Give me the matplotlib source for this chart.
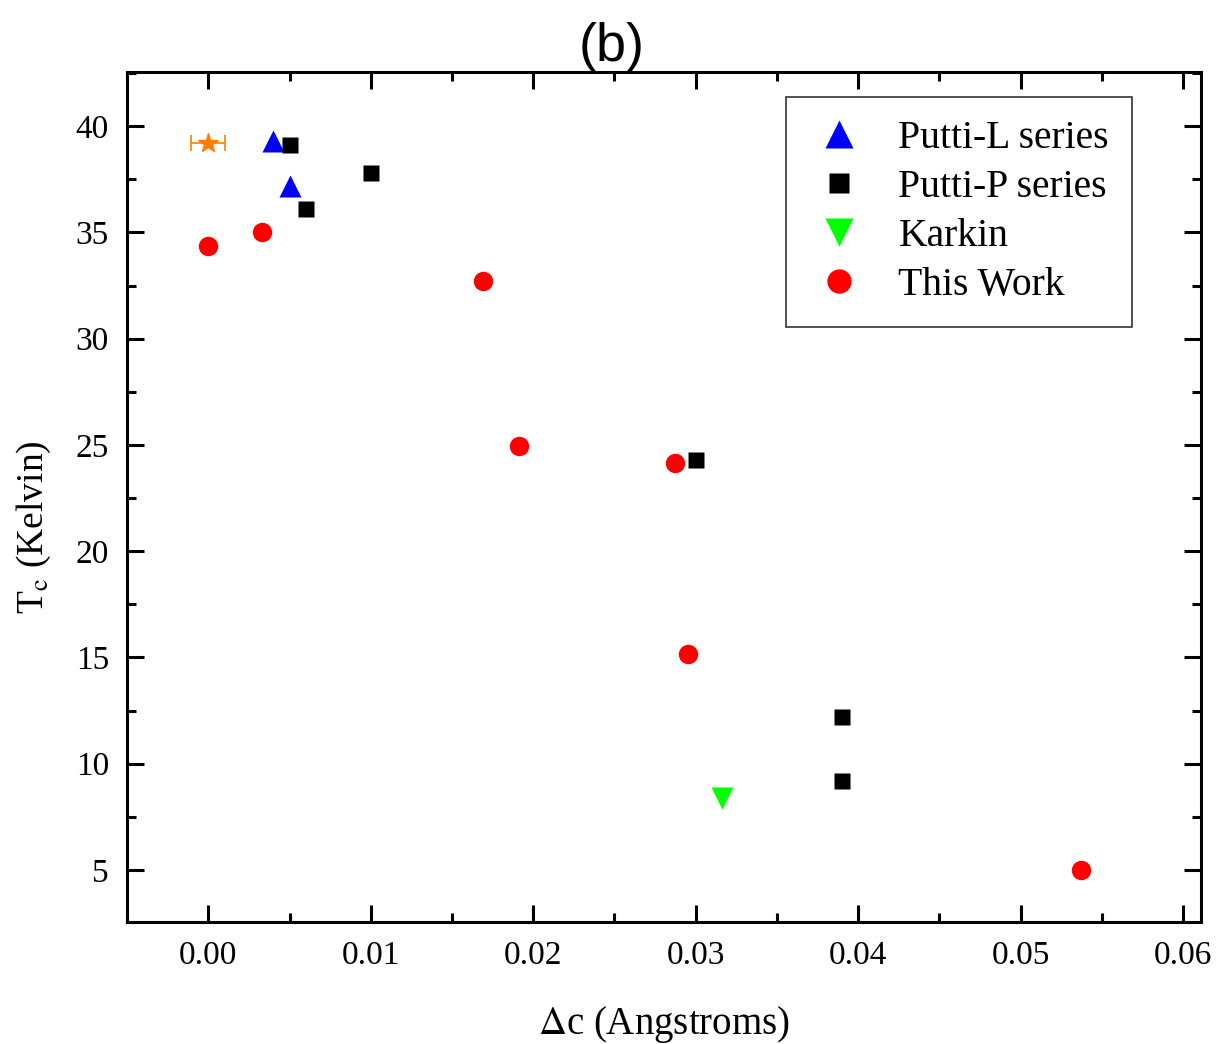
import matplotlib
matplotlib.use("Agg")
import matplotlib.pyplot as plt
from matplotlib.ticker import MultipleLocator

# data
putti_l_x = [0.004, 0.005]
putti_l_y = [39.3, 37.2]
putti_p_x = [0.005, 0.010, 0.006, 0.030, 0.039, 0.039]
putti_p_y = [39.1, 37.8, 36.1, 24.3, 12.2, 9.2]
karkin_x = [0.0316]
karkin_y = [8.4]
work_x = [0.0, 0.0033, 0.0169, 0.0191, 0.0287, 0.0295, 0.0537]
work_y = [34.35, 35.0, 32.7, 24.95, 24.15, 15.17, 5.0]
star_x = [0.0]
star_y = [39.2]
star_xerr = [0.00105]

plt.rcParams['font.family'] = ['Liberation Serif', 'DejaVu Serif']
plt.rcParams['mathtext.fontset'] = 'stix'

fig = plt.figure(figsize=(12.17, 10.44), dpi=100)
ax = fig.add_axes([0.1044, 0.1169, 0.8824, 0.8141])

ax.errorbar(star_x, star_y, xerr=star_xerr, fmt='*', color='#ff8000',
            ms=15, capsize=6, elinewidth=1.2, capthick=1.2)
ax.plot(putti_l_x, putti_l_y, '^', color='blue', ms=16, mec='none', label='Putti-L series')
ax.plot(putti_p_x, putti_p_y, 's', color='black', ms=12, mec='none', label='Putti-P series')
ax.plot(karkin_x, karkin_y, 'v', color='#00ff00', ms=16, mec='none', label='Karkin')
ax.plot(work_x, work_y, 'o', color='red', ms=14, mec='none', label='This Work')

ax.set_xlim(-0.005, 0.0611)
ax.set_ylim(2.55, 42.55)
ax.xaxis.set_major_locator(MultipleLocator(0.01))
ax.xaxis.set_minor_locator(MultipleLocator(0.005))
ax.yaxis.set_major_locator(MultipleLocator(5))
ax.yaxis.set_minor_locator(MultipleLocator(2.5))
ax.xaxis.set_major_formatter(matplotlib.ticker.FormatStrFormatter('%.2f'))

ax.tick_params(which='both', direction='in', top=True, right=True, width=2.2, labelsize=24)
ax.tick_params(which='major', length=12, pad=13)
ax.tick_params(which='minor', length=6.5)
for s in ax.spines.values():
    s.set_linewidth(2.2)

ax.set_xlabel(r'$\Delta$c (Angstroms)', fontsize=28, labelpad=24)
ax.set_ylabel(r'T$_{\rm c}$ (Kelvin)', fontsize=27)
ax.yaxis.set_label_coords(-0.069, 0.465)
ax.set_title('(b)', fontsize=39, family='Liberation Sans', x=0.4516, pad=6)

leg = ax.legend(loc='upper right', bbox_to_anchor=(0.9357, 0.9706), fontsize=28.5,
                frameon=True, fancybox=False, edgecolor='black', handletextpad=0.75,
                labelspacing=0.3, borderpad=0.58, handlelength=1.5, markerscale=1.25,
                borderaxespad=0)
leg.get_frame().set_linewidth(1.2)

fig.savefig('out.png', dpi=100)
